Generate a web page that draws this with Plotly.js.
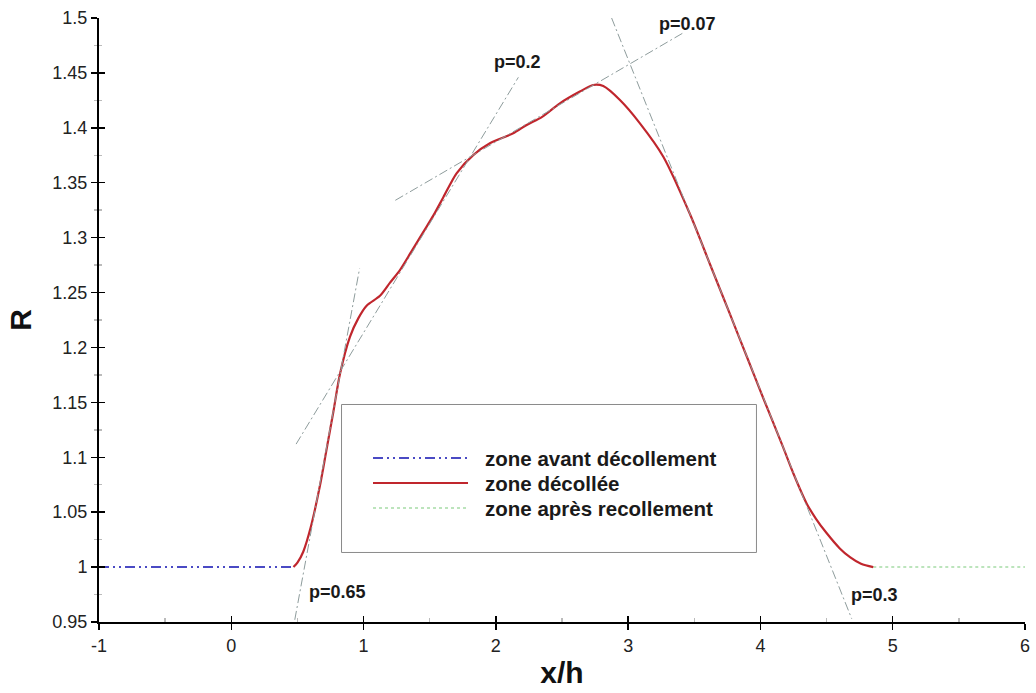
<!DOCTYPE html>
<html>
<head>
<meta charset="utf-8">
<script src="https://cdn.plot.ly/plotly-3.0.1.min.js"></script>
<style>
  html, body { margin: 0; padding: 0; background: #fff; }
  #chart { width: 1036px; height: 693px; }
</style>
</head>
<body>
<div id="chart"></div>
<script>
// Zone avant décollement (upstream of separation)
const avantX = [-1, 0.47];
const avantR = [1.0, 1.0];

// Zone décollée (separated region)
const decolleeX = [0.47, 0.50, 0.544, 0.60, 0.67, 0.72, 0.771, 0.822, 0.897, 0.96, 1.023, 1.124, 1.20, 1.275, 1.36, 1.451, 1.527, 1.602, 1.703, 1.829, 1.955, 2.131, 2.233, 2.35, 2.484, 2.635, 2.736, 2.812, 2.938, 3.089, 3.266, 3.467, 3.618, 3.769, 3.896, 4.021, 4.172, 4.25, 4.349, 4.42, 4.50, 4.60, 4.677, 4.76, 4.853];
const decolleeR = [1.000, 1.004, 1.014, 1.036, 1.074, 1.107, 1.141, 1.176, 1.2097, 1.2265, 1.238, 1.247, 1.259, 1.2705, 1.287, 1.305, 1.320, 1.3365, 1.3586, 1.3752, 1.3859, 1.395, 1.4026, 1.410, 1.4223, 1.433, 1.439, 1.438, 1.4253, 1.4041, 1.3737, 1.3215, 1.276, 1.2305, 1.192, 1.154, 1.109, 1.085, 1.058, 1.044, 1.031, 1.017, 1.009, 1.003, 1.000];

// Zone après recollement (downstream of reattachment)
const apresX = [4.853, 6];
const apresR = [1.0, 1.0];

// Tangent lines and their slopes
const tangentSlopes = ['p=0.65', 'p=0.2', 'p=0.07', 'p=0.3'];
const tangentX = [[0.48, 0.97], [0.49, 2.17], [1.24, 3.41], [2.875, 4.69]];
const tangentR = [[0.952, 1.272], [1.112, 1.446], [1.334, 1.486], [1.50, 0.953]];
const slopeLabelX = [0.80, 2.16, 3.45, 4.86];
const slopeLabelR = [0.977, 1.46, 1.4945, 0.9745];

// Legend entries
const legendNames = ['zone avant décollement', 'zone décollée', 'zone après recollement'];

// Axis ticks
const xTicks = [-1, 0, 1, 2, 3, 4, 5, 6];
const xTickText = ['-1', '0', '1', '2', '3', '4', '5', '6'];
const rTicks = [0.95, 1, 1.05, 1.1, 1.15, 1.2, 1.25, 1.3, 1.35, 1.4, 1.45, 1.5];
const rTickText = ['0.95', '1', '1.05', '1.1', '1.15', '1.2', '1.25', '1.3', '1.35', '1.4', '1.45', '1.5'];

const FONT = 'Liberation Sans, Arial, Helvetica, sans-serif';
const styles = [
  { color: '#4a4ac4', width: 2, dash: '10px,4px,2px,4px,2px,4px' },
  { color: '#c0262d', width: 2.2, dash: 'solid' },
  { color: '#a6dca6', width: 1.5, dash: 'dot' }
];
const tangentLine = { color: '#8e9c9c', width: 1, dash: '9px,3px,2px,3px' };

const traces = [];
tangentX.forEach((xs, i) => {
  traces.push({
    x: xs, y: tangentR[i], type: 'scatter', mode: 'lines',
    xaxis: 'x2', yaxis: 'y2', line: tangentLine,
    showlegend: false, hoverinfo: 'skip', name: tangentSlopes[i]
  });
});
traces.push({ x: avantX, y: avantR, type: 'scatter', mode: 'lines', name: legendNames[0], line: styles[0], showlegend: false });
traces.push({ x: apresX, y: apresR, type: 'scatter', mode: 'lines', name: legendNames[2], line: styles[2], showlegend: false });
traces.push({ x: decolleeX, y: decolleeR, type: 'scatter', mode: 'lines', name: legendNames[1], line: Object.assign({ shape: 'spline', smoothing: 0.8 }, styles[1]), showlegend: false });

const annotations = tangentSlopes.map((t, i) => ({
  x: slopeLabelX[i], y: slopeLabelR[i], xref: 'x', yref: 'y', text: t, showarrow: false,
  font: { family: FONT, size: 18, weight: 'bold', color: '#1a1a1a' }
}));

// Boxed legend drawn inside the plot
const box = { x0: 0.2619, x1: 0.7100, y0: 0.1151, y1: 0.3601 };
const sampleX = [0.2959, 0.3985];
const rowY = [0.2715, 0.2301, 0.1887];
const shapes = [{
  type: 'rect', xref: 'paper', yref: 'paper', x0: box.x0, x1: box.x1, y0: box.y0, y1: box.y1,
  line: { color: '#8a8a8a', width: 1 }, fillcolor: '#ffffff', layer: 'above'
}];
legendNames.forEach((n, i) => {
  shapes.push({
    type: 'line', xref: 'paper', yref: 'paper', x0: sampleX[0], x1: sampleX[1], y0: rowY[i], y1: rowY[i],
    line: styles[i], layer: 'above'
  });
  annotations.push({
    x: 0.4150, y: rowY[i], xref: 'paper', yref: 'paper', xanchor: 'left', yanchor: 'middle',
    text: n, showarrow: false, font: { family: FONT, size: 20.5, weight: 'bold', color: '#1a1a1a' }
  });
});

const tickFont = { family: FONT, size: 18, color: '#222' };
const layout = {
  width: 1036, height: 693,
  margin: { l: 99, r: 11, t: 18, b: 71 },
  paper_bgcolor: '#fff', plot_bgcolor: '#fff',
  showlegend: false,
  xaxis: {
    range: [-1, 6], tickvals: xTicks, ticktext: xTickText, ticks: 'outside', ticklen: 6, tickwidth: 1.5, tickcolor: '#000',
    showline: true, linecolor: '#000', linewidth: 2, showgrid: false, zeroline: false,
    tickfont: tickFont,
    minor: { dtick: 0.5, tick0: -1, ticks: '', showgrid: false },
    title: { text: 'x/h', font: { family: FONT, size: 30, weight: 'bold', color: '#111' }, standoff: 7 }
  },
  yaxis: {
    range: [0.95, 1.5], tickvals: rTicks, ticktext: rTickText, ticks: 'outside', ticklen: 6, tickwidth: 1.5, tickcolor: '#000',
    showline: true, linecolor: '#000', linewidth: 2, showgrid: false, zeroline: false,
    tickfont: tickFont,
    minor: { dtick: 0.025, tick0: 0.95, ticks: 'outside', ticklen: 3, tickcolor: '#bbb', showgrid: false },
    title: { text: 'R', font: { family: FONT, size: 30, weight: 'bold', color: '#111' }, standoff: 12 }
  },
  xaxis2: {
    overlaying: 'x', anchor: 'y', side: 'bottom', range: [-1, 6], tickvals: xTicks,
    ticks: 'inside', ticklen: 6, tickwidth: 1.5, tickcolor: '#000', showticklabels: false,
    showline: false, showgrid: false, zeroline: false,
    minor: { dtick: 0.5, tick0: -1, ticks: 'inside', ticklen: 4, tickcolor: '#bbb', showgrid: false }
  },
  yaxis2: {
    overlaying: 'y', anchor: 'x', side: 'left', range: [0.95, 1.5], tickvals: rTicks,
    ticks: 'inside', ticklen: 6, tickwidth: 1.5, tickcolor: '#000', showticklabels: false,
    showline: false, showgrid: false, zeroline: false,
    minor: { dtick: 0.025, tick0: 0.95, ticks: 'inside', ticklen: 3, tickcolor: '#bbb', showgrid: false }
  },
  shapes: shapes,
  annotations: annotations
};

Plotly.newPlot('chart', traces, layout, { staticPlot: true, displayModeBar: false });
</script>
</body>
</html>
